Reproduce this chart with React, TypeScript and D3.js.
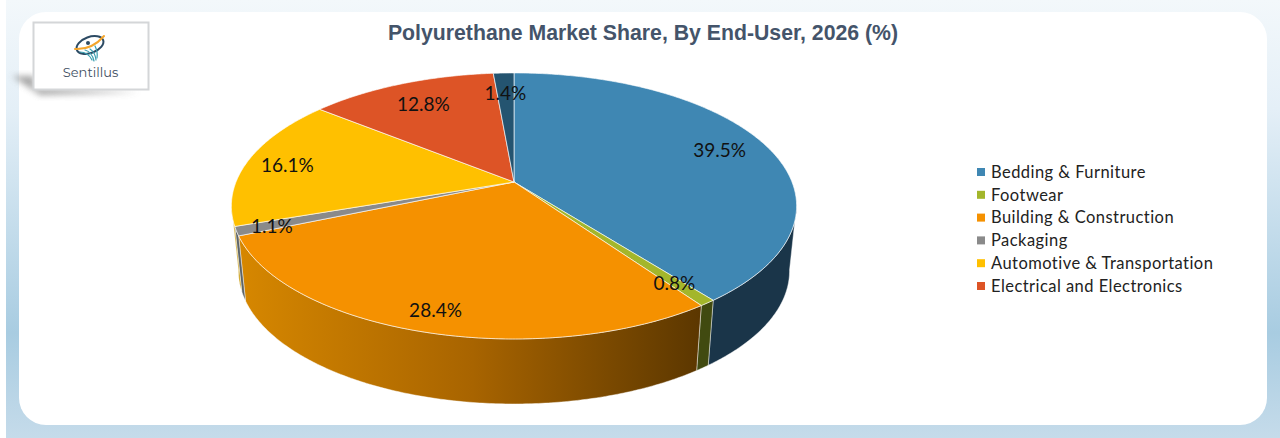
import React from 'react';
import * as d3 from 'd3';

const categories = ['Bedding & Furniture', 'Footwear', 'Building & Construction', 'Packaging', 'Automotive & Transportation', 'Electrical and Electronics', ''];
const shares = [39.5, 0.8, 28.4, 1.1, 16.1, 12.8, 1.4];
const labels = ['39.5%', '0.8%', '28.4%', '1.1%', '16.1%', '12.8%', '1.4%'];
const colors = ['#3f87b3', '#a3b62b', '#f59100', '#8a8a8a', '#ffc000', '#dd5426', '#245470'];
const wallColors = ['#1a3549', '#414a10', 'url(#orangeWall)', '#5d6468', '#c79600', '#8a3a1a', '#16303f'];
const labelRadius = [0.82, 0.85, 0.87, 0.88, 0.85, 0.78, 0.8];

const W = 1280;
const H = 438;
const apexX = 514;
const apexY = 182;
const tilt = 0.18; // perspective: near edge of the pie is drawn bigger
const radiusX = 278;
const radiusY = 128.7;
const depth = 65;
const bottomScale = 0.975;
// wall is only visible between these angles (silhouette of the projected circle)
const wallFrom = (100 * Math.PI) / 180;
const wallTo = (260 * Math.PI) / 180;

const project = (angle: number, r = 1): [number, number] => {
  const u = Math.sin(angle) * r;
  const v = -Math.cos(angle) * r;
  const w = 1 - tilt * v;
  return [apexX + (radiusX * u) / w, apexY + (radiusY * v) / w];
};
const projectBottom = (angle: number): [number, number] => {
  const [x, y] = project(angle);
  return [apexX + (x - apexX) * bottomScale, y + depth];
};
const arcAngles = (a0: number, a1: number) => {
  const n = Math.max(2, Math.ceil(Math.abs(a1 - a0) / 0.01));
  return d3.range(n + 1).map((i) => a0 + ((a1 - a0) * i) / n);
};
const line = d3.line();

const pie = d3.pie<number>().sort(null).startAngle(0).endAngle(Math.PI * 2);

const App: React.FC = () => {
  const arcs = pie(shares);
  const walls = arcs
    .map((d, i) => ({ i, a0: Math.max(d.startAngle, wallFrom), a1: Math.min(d.endAngle, wallTo) }))
    .filter((d) => d.a1 > d.a0);

  return (
    <svg width={W} height={H} style={{ position: 'absolute', left: 0, top: 0 }}>
      <defs>
        <linearGradient id="pageBg" x1="0" y1="0" x2="0" y2="1">
          <stop offset="0" stopColor="#f3f8fb" />
          <stop offset="0.25" stopColor="#e4eff7" />
          <stop offset="0.76" stopColor="#a8cce1" />
          <stop offset="1" stopColor="#c5dbea" />
        </linearGradient>
        <linearGradient id="orangeWall" gradientUnits="userSpaceOnUse" x1="240" y1="0" x2="705" y2="0">
          <stop offset="0" stopColor="#d68700" />
          <stop offset="0.5" stopColor="#a86400" />
          <stop offset="1" stopColor="#5a3600" />
        </linearGradient>
        <filter id="logoShadow" x="-30%" y="-30%" width="160%" height="160%">
          <feGaussianBlur stdDeviation="3" />
        </filter>
      </defs>

      <rect x={6} width={W - 6} height={H} fill="url(#pageBg)" />
      <rect x={19} y={12} width={1248} height={413} rx={27} fill="#ffffff" />

      {/* logo box */}
      <path d="M12,76 L34,76 L34,88 L140,92 L40,95 Z" fill="#8f8f8f" opacity={0.8} filter="url(#logoShadow)" />
      <rect x={33.5} y={22.5} width={115} height={67} fill="#ffffff" stroke="#d4d6d8" strokeWidth={2} />
      <g fill="none" strokeLinecap="round">
        <ellipse cx={90} cy={45} rx={14} ry={8} stroke="#2c4a63" strokeWidth={2} transform="rotate(-20 90 45)" />
        <path d="M75,49 Q92,50 104,36" stroke="#f4a52b" strokeWidth={2} />
        <path d="M80,52 Q88,52 92,60 M85,50 Q92,52 94,61 M90,49 Q95,52 96,60 M95,46 Q98,52 97,58" stroke="#3a9fb0" strokeWidth={1.2} />
        <circle cx={88} cy={43} r={2} fill="#2c4a63" />
      </g>
      <text x={90.5} y={77} textAnchor="middle" fontFamily="Montserrat, 'Open Sans', sans-serif" fontSize={13} fill="#3f4f63">Sentillus</text>

      <text x={643} y={40} textAnchor="middle" fontFamily="'Liberation Sans', Arial, sans-serif" fontWeight="bold" fontSize={21.25} fill="#44546a">
        Polyurethane Market Share, By End-User, 2026 (%)
      </text>

      {/* side walls, drawn from the back edges inwards */}
      {walls.map(({ i, a0, a1 }) => {
        const top = arcAngles(a0, a1).map((a) => project(a));
        const bottom = arcAngles(a1, a0).map((a) => projectBottom(a));
        return <path key={i} d={`${line([...top, ...bottom])}Z`} fill={wallColors[i]} stroke="#ffffff" strokeOpacity={0.55} strokeWidth={0.8} />;
      })}

      {/* top face */}
      {arcs.map((d, i) => {
        const rim = arcAngles(d.startAngle, d.endAngle).map((a) => project(a));
        return <path key={i} d={`${line([[apexX, apexY], ...rim])}Z`} fill={colors[i]} stroke="#ffffff" strokeOpacity={0.7} strokeWidth={0.9} strokeLinejoin="round" />;
      })}

      {arcs.map((d, i) => {
        const [x, y] = project((d.startAngle + d.endAngle) / 2, labelRadius[i]);
        return (
          <text key={i} x={x} y={y} dy="0.42em" textAnchor="middle" fontFamily="Lato, sans-serif" fontSize={19} fill="#111111">
            {labels[i]}
          </text>
        );
      })}

      {/* legend */}
      {categories.filter(Boolean).map((c, i) => {
        const y = d3.scaleLinear().domain([0, 5]).range([172, 286])(i);
        return (
          <g key={c}>
            <rect x={977} y={y - 4} width={8} height={8} fill={colors[i]} />
            <text x={991} y={y} dy="0.35em" fontFamily="Lato, sans-serif" fontSize={16.5} letterSpacing={0.45} fill="#222222">
              {c}
            </text>
          </g>
        );
      })}
    </svg>
  );
};

export default App;
